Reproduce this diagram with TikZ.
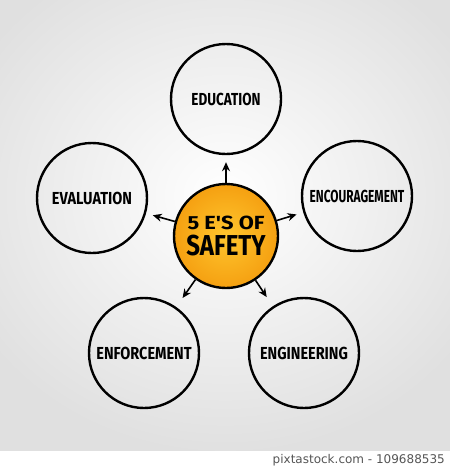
\documentclass[tikz,border=0pt]{standalone}
\usepackage{fontspec}
\setmainfont{Fira Sans}
\newfontfamily\footfont{DejaVu Sans}
\usetikzlibrary{arrows.meta}
\usepackage{graphicx}

\definecolor{rimorange}{HTML}{F5A011}
\definecolor{coreorange}{HTML}{FFC62E}
\definecolor{footgray}{HTML}{555555}

\newcommand{\handtext}[3][1]{\scalebox{#1}[#2]{\bfseries #3}}

\begin{document}
\begin{tikzpicture}[x=1pt, y=-1pt,
    ecircle/.style={draw, circle, line width=2.4pt, minimum size=110pt, inner sep=0pt,
        font=\fontsize{14.5}{16}\selectfont},
    arr/.style={-{Stealth[length=9pt, width=8pt]}, line width=1.6pt, shorten >=7pt}]
        \useasboundingbox (0, 0) rectangle (450, 469);
        \shade[inner color=white, outer color=black!12, shading=radial] (-60, -60) rectangle (510, 451);
        \fill[white] (0, 451) rectangle (450, 469);

        \node[ecircle] (edu) at (226, 99) {\handtext[0.93]{1.2}{EDUCATION}};
        \node[ecircle] (enc) at (357, 196) {\handtext[0.82]{1.2}{ENCOURAGEMENT}};
        \node[ecircle] (eva) at (92, 198) {\handtext{1.2}{EVALUATION}};
        \node[ecircle] (enf) at (144, 353) {\handtext{1.2}{ENFORCEMENT}};
        \node[ecircle] (eng) at (304, 353) {\handtext{1.2}{ENGINEERING}};

        \node[draw, circle, line width=2.4pt, minimum size=104pt, inner sep=0pt,
            inner color=coreorange, outer color=rimorange, align=center] (safety) at (226, 236)
            {\fontsize{19}{20}\selectfont\handtext[1.15]{1}{5 E\textquotesingle S OF}\\[5pt]
             \fontsize{24}{24}\selectfont\handtext{1.2}{SAFETY}};

        \node[anchor=east, font=\footfont\fontsize{12}{14}\selectfont, text=footgray,
            inner sep=0pt] (foot) at (445, 460) {pixtastock.com - 109688535};

        \begin{scope}[arr]
            \draw (safety) -- (edu);
            \draw (safety) -- (enc);
            \draw (safety) -- (eva);
            \draw[shorten >=11pt] (safety) -- (enf);
            \draw[shorten >=11pt] (safety) -- (eng);
        \end{scope}
\end{tikzpicture}
\end{document}
